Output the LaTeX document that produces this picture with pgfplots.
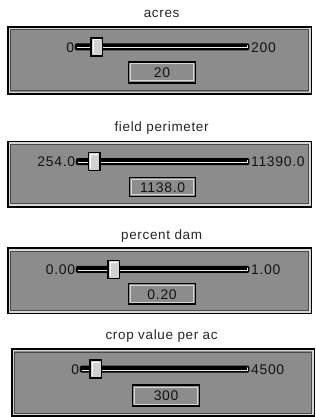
\documentclass[border=0pt]{standalone}
\usepackage{pgfplots}
\pgfplotsset{compat=1.18}
\usepackage{fontspec}
\setmainfont{Liberation Sans}
\newfontfamily\uifont[LetterSpace=5]{Liberation Sans}
\definecolor{panelgray}{HTML}{8C8C8C}
\definecolor{bevel}{HTML}{D6D6D6}
\definecolor{darkline}{HTML}{4A4A4A}
\definecolor{thumbfill}{HTML}{D2D2D2}
\definecolor{txt}{HTML}{141414}
\definecolor{ttl}{HTML}{262626}

% thumb mark
\pgfdeclareplotmark{thumb}{%
  \pgfsetlinewidth{1.4bp}%
  \pgfsetfillcolor{thumbfill}\pgfsetstrokecolor{black}%
  \pgfpathrectangle{\pgfpoint{-5.8bp}{-9bp}}{\pgfpoint{11.6bp}{18bp}}%
  \pgfusepath{fill,stroke}%
  \pgfsetlinewidth{1.1bp}\pgfsetstrokecolor{white}%
  \pgfpathmoveto{\pgfpoint{-3.5bp}{-6.5bp}}\pgfpathlineto{\pgfpoint{-3.5bp}{7bp}}%
  \pgfpathlineto{\pgfpoint{3.6bp}{7bp}}%
  \pgfusepath{stroke}%
}

\newcommand\panel[4]{%
  \fill[panelgray] (axis cs:#1,#2) rectangle (axis cs:#3,#4);
  \draw[bevel, line width=1.8bp] (axis cs:#1+2.2,#2+2.2) rectangle (axis cs:#3-2.2,#4-2.2);
  \draw[darkline, line width=0.9bp] (axis cs:#1+3.9,#2+3.9) rectangle (axis cs:#3-3.9,#4-3.9);
  \draw[black, line width=1.6bp] (axis cs:#1+0.8,#2+0.8) rectangle (axis cs:#3-0.8,#4-0.8);
}
\newcommand\valbox[5]{%
  \draw[bevel, line width=1bp] (axis cs:#1+2,#2+2) rectangle (axis cs:#3-2,#4-2);
  \draw[black, line width=1.6bp] (axis cs:#1,#2) rectangle (axis cs:#3,#4);
  \node[txt, font=\uifont\fontsize{14bp}{16bp}\selectfont] at (axis cs:{(#1+#3)/2},{(#2+#4)/2+0.5}) {#5};
}
\newcommand\track[5]{%
  \fill[black, rounded corners=1.5bp] (axis cs:#1,#3-3.5) rectangle (axis cs:#2,#3+3.5);
  \draw[white!85!gray, line width=0.9bp, line cap=round] (axis cs:#1+2.5,#3+1) -- (axis cs:#2-2.4,#3+1) -- (axis cs:#2-2.4,#3-1.2);
  \node[txt, anchor=east, inner sep=0.5bp, font=\uifont\fontsize{14bp}{16bp}\selectfont] at (axis cs:#1,#3+0.5) {#4};
  \node[txt, anchor=west, inner sep=1.5bp, font=\uifont\fontsize{14bp}{16bp}\selectfont] at (axis cs:#2,#3+0.5) {#5};
}
\newcommand\ttl[2]{%
  \node[ttl, font=\uifont\fontsize{13.5bp}{16bp}\selectfont] at (axis cs:162,#1) {#2};
}

\begin{document}
\begin{tikzpicture}
\begin{axis}[name=bg, at={(0,0)}, anchor=south west, scale only axis,
  width=316bp, height=417bp, xmin=0, xmax=316, ymin=0, ymax=417,
  y dir=reverse, hide axis, clip=false]
  \addplot[draw=none] coordinates {(0,0) (316,417)};
  % panel 1: acres
  \ttl{14}{acres}
  \panel{7}{26}{313}{95}
  \track{75}{250}{47}{0}{200}
  \valbox{129}{62}{196}{83}{20}
  % panel 2: field perimeter
  \ttl{128}{field perimeter}
  \panel{7}{141}{313}{208}
  \track{76}{250}{162}{254.0}{11390.0}
  \valbox{130}{178}{196}{197}{1138.0}
  % panel 3: percent dam
  \ttl{237}{percent dam}
  \panel{7}{248}{313}{315}
  \track{76}{250}{270}{0.00}{1.00}
  \valbox{129}{284}{196}{305}{0.20}
  % panel 4: crop value per ac
  \ttl{337}{crop value per ac}
  \panel{11}{349}{316}{418}
  \track{80}{250}{370}{0}{4500}
  \valbox{133}{386}{200}{407}{300}
\end{axis}
% slider thumbs: value on each slider's own scale
\begin{axis}[at={(80.5bp,370bp)}, anchor=west, scale only axis, width=164bp, height=18bp,
  xmin=0, xmax=200, ymin=-1, ymax=1, hide axis, clip=false]
  \addplot[only marks, mark=thumb] coordinates {(20,0)};
\end{axis}
\begin{axis}[at={(81.5bp,255bp)}, anchor=west, scale only axis, width=163bp, height=18bp,
  xmin=254, xmax=11390, ymin=-1, ymax=1, hide axis, clip=false]
  \addplot[only marks, mark=thumb] coordinates {(1138,0)};
\end{axis}
\begin{axis}[at={(81.5bp,147bp)}, anchor=west, scale only axis, width=163bp, height=18bp,
  xmin=0, xmax=1, ymin=-1, ymax=1, hide axis, clip=false]
  \addplot[only marks, mark=thumb] coordinates {(0.2,0)};
\end{axis}
\begin{axis}[at={(85.5bp,47bp)}, anchor=west, scale only axis, width=159bp, height=18bp,
  xmin=0, xmax=4500, ymin=-1, ymax=1, hide axis, clip=false]
  \addplot[only marks, mark=thumb] coordinates {(300,0)};
\end{axis}
\end{tikzpicture}
\end{document}
